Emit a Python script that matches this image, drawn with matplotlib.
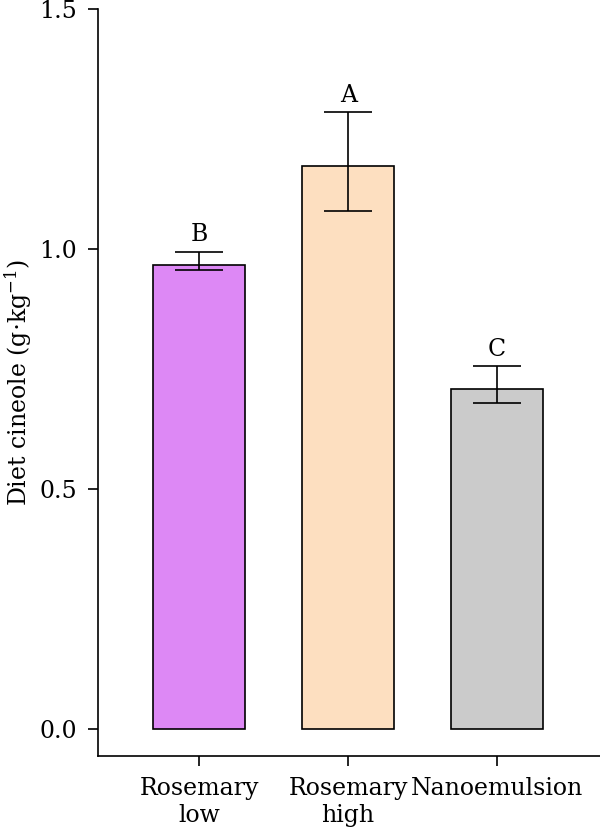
import matplotlib
matplotlib.use("Agg")
import matplotlib.pyplot as plt

groups = ["Rosemary\nlow", "Rosemary\nhigh", "Nanoemulsion"]
means = [0.967, 1.173, 0.708]
err_low = [0.011, 0.094, 0.029]
err_high = [0.027, 0.112, 0.048]
letters = ["B", "A", "C"]
colors = ["#DD88F5", "#FDDFC0", "#CBCBCB"]

plt.rcParams["font.family"] = ["DejaVu Serif"]
plt.rcParams["mathtext.fontset"] = "dejavuserif"
plt.rcParams["font.size"] = 17

fig = plt.figure(figsize=(6, 8.34), dpi=100)
ax = fig.add_axes([0.163, 0.0935, 0.837, 0.8955])

x = range(len(groups))
ax.bar(x, means, width=0.62, color=colors, edgecolor="black", linewidth=1.2)
ax.errorbar(x, means, yerr=[err_low, err_high], fmt="none", ecolor="black",
            elinewidth=1.2, capsize=17.5, capthick=1.2)
for i in x:
    ax.text(i, means[i] + err_high[i] + 0.012, letters[i], ha="center", va="bottom", fontsize=17)

ax.set_xlim(-0.68, 2.69)
ax.set_ylim(-0.056, 1.5)
ax.set_yticks([0.0, 0.5, 1.0, 1.5])
ax.set_yticklabels(["0.0", "0.5", "1.0", "1.5"])
ax.set_xticks(list(x))
ax.set_xticklabels(groups, linespacing=1.25)
ax.set_ylabel("Diet cineole (g$\\cdot$kg$^{-1}$)", fontsize=17, labelpad=4)
ax.spines["top"].set_visible(False)
ax.spines["right"].set_visible(False)
for s in ["left", "bottom"]:
    ax.spines[s].set_linewidth(1.2)
ax.tick_params(direction="out", length=7, width=1.2)
ax.tick_params(axis="y", pad=8)
ax.tick_params(axis="x", pad=8)

fig.savefig("out.png", dpi=100)
